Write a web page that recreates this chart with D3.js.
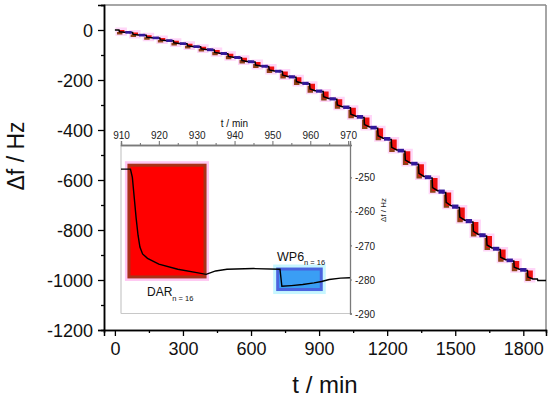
<!DOCTYPE html>
<html>
<head>
<meta charset="utf-8">
<script src="https://cdn.jsdelivr.net/npm/d3@7"></script>
<style>
html,body{margin:0;padding:0;background:#fff;}
svg{display:block;font-family:"Liberation Sans",Arial,sans-serif;}
</style>
</head>
<body>
<svg id="chart" width="550" height="399"></svg>
<script>
// ---- main chart data ----
const darStart = [18,78,138,198,258,318,378,438,498,558,618,678,738,798,858,918,978,1038,1098,1158,1218,1278,1338,1398,1458,1518,1578,1638,1698,1758,1818];
const levelBefore = [0,-10,-21,-32,-43,-55,-67,-80,-95,-111,-128,-146,-166,-189,-215,-246,-277,-311,-350,-393,-438,-485,-537,-592,-650,-710,-768,-824,-878,-924,-962];
const levelAfterDar = [-9,-20,-31,-42,-54,-66,-78,-93,-109,-126,-144,-164,-186,-212,-243,-274,-307,-345,-388,-433,-480,-532,-586,-643,-703,-761,-818,-872,-919,-957,-996];
const finalLevel = -1002;
const mainYTicks = [0,-200,-400,-600,-800,-1000,-1200];
const mainXTicks = [0,300,600,900,1200,1500,1800];

// ---- inset data ----
const insetT  = [910,912.5,913,913.5,914,914.5,915,915.7,917,920,925,930,932.5,933,935,938,945,952,952.5,955,958,961,963,965,968,970.5];
const insetDf = [-247.6,-247.6,-250,-256,-262,-267,-270.5,-272.5,-273.8,-275.5,-277,-278,-278.5,-278.3,-277.5,-277,-276.8,-277,-282,-281.8,-281.5,-281,-280.6,-280,-279.6,-279.5];
const darWindowT = [911.7,932.6];
const darWindowDf = [-246,-279.7];
const wp6WindowT = [951,963.3];
const wp6WindowDf = [-276.5,-283.4];
const insetXTicks = [910,920,930,940,950,960,970];
const insetYTicks = [-250,-260,-270,-280,-290];

const svg = d3.select("#chart");
const fmt = d => String(d);

// main scales
const x = d3.scaleLinear().domain([-48,1900]).range([104,546]);
const y = d3.scaleLinear().domain([-1200,100]).range([330,5]);

// frame (top/right grey)
svg.append("line").attr("x1",104).attr("x2",546).attr("y1",5).attr("y2",5).attr("stroke","#888").attr("stroke-width",1.5);
svg.append("line").attr("x1",546).attr("x2",546).attr("y1",5).attr("y2",330).attr("stroke","#888").attr("stroke-width",1.5);

// axes
const yAxis = d3.axisLeft(y).tickValues(mainYTicks).tickSize(6).tickPadding(5).tickFormat(fmt);
const yMinor = d3.axisLeft(y).tickValues(d3.range(-1100,101,200)).tickSize(3).tickFormat("");
const xAxis = d3.axisBottom(x).tickValues(mainXTicks).tickSize(6).tickPadding(6).tickFormat(fmt);
const xMinor = d3.axisBottom(x).tickValues(d3.range(150,1900,300)).tickSize(3).tickFormat("");

function styleAxis(g, fs){
  g.select(".domain").attr("stroke","#000").attr("stroke-width",1.5);
  g.selectAll(".tick line").attr("stroke","#000").attr("stroke-width",1.3);
  g.selectAll(".tick text").attr("fill","#111").style("font-size",fs+"px").style("font-family","Liberation Sans, Arial, sans-serif");
}
const gyM = svg.append("g").attr("transform","translate(104,0)").call(yMinor);
styleAxis(gyM,18);
const gy = svg.append("g").attr("transform","translate(104,0)").call(yAxis);
styleAxis(gy,18);
const gxM = svg.append("g").attr("transform","translate(0,330)").call(xMinor);
styleAxis(gxM,18);
const gx = svg.append("g").attr("transform","translate(0,330)").call(xAxis);
styleAxis(gx,18);
gy.selectAll(".tick text").attr("dy","0.36em");

// axis titles
svg.append("text").attr("transform","translate(24,156) rotate(-90)").attr("text-anchor","middle")
  .style("font-size","23px").attr("fill","#111").text("Δf / Hz");
svg.append("text").attr("x",325).attr("y",393).attr("text-anchor","middle")
  .style("font-size","24px").attr("fill","#111").text("t / min");

// ---- main series ----
const W = 24;
const gMain = svg.append("g");
// glows
darStart.forEach((t0,k)=>{
  const x0 = x(t0), x1 = x(t0+W);
  const y0 = y(levelBefore[k]), y1 = y(levelAfterDar[k]);
  const h = Math.max(y1-y0,2);
  gMain.append("rect").attr("x",x0-3.5).attr("y",y0-2.5).attr("width",x1-x0+6).attr("height",h+6).attr("fill","#ffd6f8");
});
// rects
darStart.forEach((t0,k)=>{
  const x0 = x(t0), x1 = x(t0+W);
  const y0 = y(levelBefore[k]), y1 = y(levelAfterDar[k]);
  const h = Math.max(y1-y0,2.5);
  gMain.append("rect").attr("x",x0-2).attr("y",y0+2).attr("width",x1-x0).attr("height",h).attr("fill","#8e4416");
  gMain.append("rect").attr("x",x0).attr("y",y0).attr("width",x1-x0).attr("height",h).attr("fill","#ee1010");
});
// black line
const pts = [[0,0]];
darStart.forEach((t0,k)=>{
  const L = levelBefore[k], B = levelAfterDar[k];
  const Ln = k+1<levelBefore.length ? levelBefore[k+1] : finalLevel;
  pts.push([t0,L],[t0+2,L-0.75*(L-B)],[t0+W,B],[t0+44,B],[t0+46,Ln]);
});
pts.push([1900,finalLevel]);
const line = d3.line().x(d=>x(d[0])).y(d=>y(d[1]));
gMain.append("path").attr("d",line(pts)).attr("fill","none").attr("stroke","#000").attr("stroke-width",1.5);
// WP6 segments (blue)
darStart.forEach((t0,k)=>{
  const B = levelAfterDar[k];
  const Ln = k+1<levelBefore.length ? levelBefore[k+1] : finalLevel;
  if(k===darStart.length-1) return;
  const ya = y(B)-1.2, yb = y(Ln)+1.2;
  gMain.append("rect").attr("x",x(t0+W+4)).attr("y",ya).attr("width",x(t0+56)-x(t0+W+4)).attr("height",yb-ya).attr("fill","#33189a");
});

// ---- inset ----
const xi = d3.scaleLinear().domain([910,970.5]).range([121,350]);
const yi = d3.scaleLinear().domain([-290,-240.5]).range([313.5,145]);
const gi = svg.append("g");
gi.append("rect").attr("x",121).attr("y",145).attr("width",229).attr("height",168.5).attr("fill","#fff");
gi.append("line").attr("x1",121).attr("x2",121).attr("y1",145).attr("y2",313.5).attr("stroke","#c8c8c8").attr("stroke-width",1.2);
gi.append("line").attr("x1",121).attr("x2",350).attr("y1",313.5).attr("y2",313.5).attr("stroke","#c8c8c8").attr("stroke-width",1.2);

// DAR window
{
  const x0 = xi(darWindowT[0]), x1 = xi(darWindowT[1]);
  const y0 = yi(darWindowDf[0]), y1 = yi(darWindowDf[1]);
  gi.append("rect").attr("x",x0-2.5).attr("y",y0-2.5).attr("width",x1-x0+5).attr("height",y1-y0+5).attr("fill","#ffc6f2");
  gi.append("rect").attr("x",x0+1.5).attr("y",y0+1.5).attr("width",x1-x0-3).attr("height",y1-y0-3)
    .attr("fill","#ff0000").attr("stroke","#a83218").attr("stroke-width",3);
}
// WP6 window
{
  const x0 = xi(wp6WindowT[0]), x1 = xi(wp6WindowT[1]);
  const y0 = yi(wp6WindowDf[0]), y1 = yi(wp6WindowDf[1]);
  gi.append("rect").attr("x",x0-3).attr("y",y0-3).attr("width",x1-x0+6).attr("height",y1-y0+6).attr("fill","#c6f6ff");
  gi.append("rect").attr("x",x0+1.5).attr("y",y0+1.5).attr("width",x1-x0-3).attr("height",y1-y0-3)
    .attr("fill","#3a9ef4").attr("stroke","#4a64de").attr("stroke-width",3);
}
// inset line
const lineI = d3.line().x((d,i)=>xi(insetT[i])).y((d,i)=>yi(insetDf[i]));
gi.append("path").attr("d",lineI(insetT)).attr("fill","none").attr("stroke","#000").attr("stroke-width",1.4);

// inset axes
const xiAxis = d3.axisTop(xi).tickValues(insetXTicks).tickSize(4).tickPadding(2).tickFormat(fmt);
const xiMinor = d3.axisTop(xi).tickValues(d3.range(915,971,10)).tickSize(2).tickFormat("");
const yiAxis = d3.axisRight(yi).tickValues(insetYTicks).tickSize(2).tickPadding(3).tickFormat(fmt);
function styleInset(g){
  g.select(".domain").attr("stroke","#7a7a7a").attr("stroke-width",1.3);
  g.selectAll(".tick line").attr("stroke","#7a7a7a").attr("stroke-width",1.1);
  g.selectAll(".tick text").attr("fill","#222").style("font-size","10px").style("font-family","Liberation Sans, Arial, sans-serif");
}
const gxi = gi.append("g").attr("transform","translate(0,145)").call(xiAxis); styleInset(gxi);
const gxim = gi.append("g").attr("transform","translate(0,145)").call(xiMinor); styleInset(gxim);
const gyi = gi.append("g").attr("transform","translate(350,0)").call(yiAxis); styleInset(gyi);
gyi.selectAll(".tick text").attr("dy","0.36em");

gi.append("text").attr("x",248).attr("y",127).attr("text-anchor","end").style("font-size","10px").attr("fill","#111").text("t / min");
gi.append("text").attr("transform","translate(386,210) rotate(-90)").attr("text-anchor","middle").style("font-size","8px").attr("fill","#222").text("Δf / Hz");

// labels
const dar = gi.append("text").attr("x",147).attr("y",296).style("font-size","12px").attr("fill","#111");
dar.append("tspan").text("DAR");
dar.append("tspan").attr("dy",5).style("font-size","7.5px").text("n = 16");
const wp = gi.append("text").attr("x",277).attr("y",261).style("font-size","12.5px").attr("fill","#111");
wp.append("tspan").text("WP6");
wp.append("tspan").attr("dy",4).style("font-size","7.5px").text("n = 16");
</script>
</body>
</html>
